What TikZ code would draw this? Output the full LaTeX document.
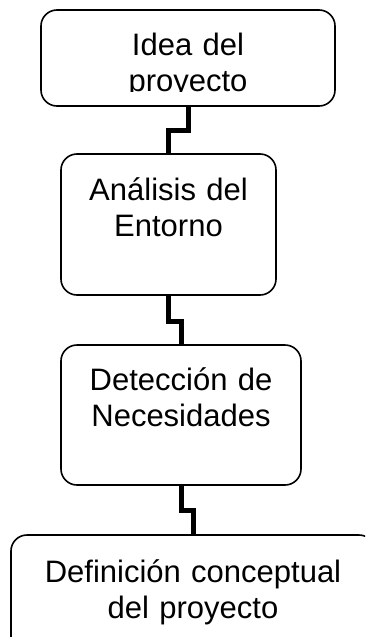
\documentclass[tikz,border=0pt]{standalone}
\usepackage{fontspec}
\setmainfont{Liberation Sans}
\usetikzlibrary{positioning}

\begin{document}
\begin{tikzpicture}[x=1pt,y=1pt]
\tikzset{
    stage/.style = {draw, rectangle, rounded corners=16pt, line width=1.6pt, inner sep=0pt, outer sep=0pt},
    stagetext/.style = {anchor=base, align=center, inner sep=0pt, font=\fontsize{31}{36}\selectfont},
    link/.style = {draw, line width=5pt}
}
\useasboundingbox (0,0) rectangle (365,-637);
\clip (0,0) rectangle (365,-637);

% -------------------------------------------------------
\node[stage, minimum width=294pt, minimum height=96pt] (idea) at (188,-58) {};

\node[stage, minimum width=215pt, minimum height=141pt,
      below=48pt of idea, xshift=-19.5pt] (analisis) {};

\node[stage, minimum width=240pt, minimum height=140pt,
      below=50pt of analisis, xshift=12.5pt] (deteccion) {};

\node[stage, minimum width=364pt, minimum height=120pt,
      below=50pt of deteccion, xshift=12pt] (definicion) {};

% -------------------------------------------------------
\begin{scope}
\clip (idea.north west) rectangle ([yshift=15pt]idea.south east);
\node[stagetext, text width=280pt] (ideaText) at ([yshift=-45pt]idea.north) {
    Idea del\\proyecto
};
\end{scope}

\node[stagetext, text width=205pt] (analisisText) at ([yshift=-46pt]analisis.north) {
    Análisis del\\Entorno
};

\node[stagetext, text width=230pt] (deteccionText) at ([yshift=-45pt]deteccion.north) {
    Detección de\\Necesidades
};

\node[stagetext, text width=340pt] (definicionText) at ([yshift=-47pt]definicion.north) {
    Definición conceptual\\del proyecto
};

% -------------------------------------------------------
\path[link] (idea.south) -- ++(0,-24) -| (analisis.north);
\path[link] (analisis.south) -- ++(0,-26) -| (deteccion.north);
\path[link] (deteccion.south) -- ++(0,-25) -| (definicion.north);
\end{tikzpicture}
\end{document}
